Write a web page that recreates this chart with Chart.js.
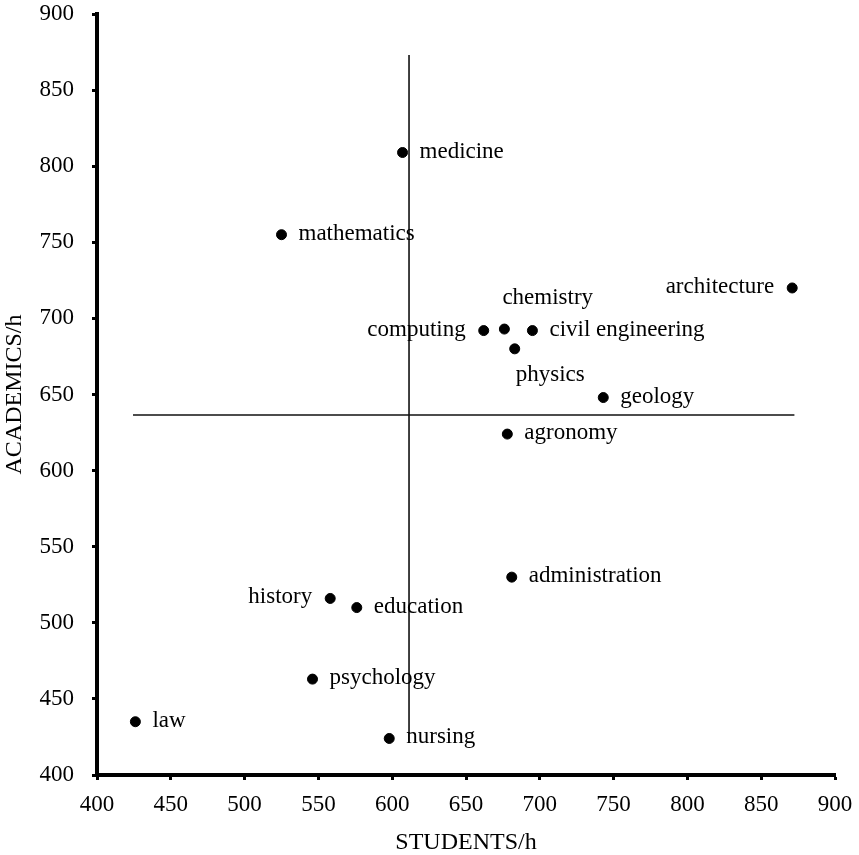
<!DOCTYPE html>
<html><head><meta charset="utf-8">
<script src="https://cdn.jsdelivr.net/npm/chart.js@4/dist/chart.umd.min.js"></script>
<style>html,body{margin:0;padding:0;background:#fff}#wrap{width:859px;height:855px}</style>
</head><body><div id="wrap"><canvas id="c" width="859" height="855"></canvas></div>
<script>
// ---- data ----
const disciplines = ['medicine','mathematics','architecture','computing','chemistry','civil engineering','physics','geology','agronomy','administration','history','education','psychology','law','nursing'];
const studentsPerHour = [607, 525, 871, 662, 676, 695, 683, 743, 678, 681, 558, 576, 546, 426, 598];
const academicsPerHour = [809, 755, 720, 692, 693, 692, 680, 648, 624, 530, 516, 510, 463, 435, 424];
const labelSide = ['right','right','left','left','above','right','below','right','right','right','left','right','right','right','right'];
const meanStudents = 611.4;
const meanAcademics = 636.5;
const vLineRange = [427.6, 873];   // academics extent of the vertical mean line
const hLineRange = [424.4, 872.5]; // students extent of the horizontal mean line
const axisMin = 400, axisMax = 900, axisStep = 50;

const SERIF = "'Liberation Serif', 'Times New Roman', serif";

const labelPlugin = {
  id: 'pointLabels',
  afterDatasetsDraw(chart) {
    const {ctx, scales} = chart;
    const offs = {right:[17,0,'left'], left:[-18,0,'right'], above:[-2,-30,'left'], below:[1,27,'left']};
    ctx.save();
    ctx.font = '23px ' + SERIF;
    ctx.fillStyle = '#000';
    ctx.textBaseline = 'alphabetic';
    disciplines.forEach((name, i) => {
      const px = scales.x.getPixelForValue(studentsPerHour[i]);
      const py = scales.y.getPixelForValue(academicsPerHour[i]);
      const o = offs[labelSide[i]];
      ctx.textAlign = o[2];
      ctx.fillText(name, px + o[0], py + o[1] + 5);
    });
    ctx.restore();
  }
};

const points = studentsPerHour.map((s, i) => ({x: s, y: academicsPerHour[i]}));

new Chart(document.getElementById('c'), {
  type: 'scatter',
  data: {
    datasets: [
      {data: [{x: meanStudents, y: vLineRange[0]}, {x: meanStudents, y: vLineRange[1]}], showLine: true, borderColor: '#111', borderWidth: 1.6, pointRadius: 0},
      {data: [{x: hLineRange[0], y: meanAcademics}, {x: hLineRange[1], y: meanAcademics}], showLine: true, borderColor: '#111', borderWidth: 1.6, pointRadius: 0},
      {data: points, backgroundColor: '#000', borderColor: '#000', pointRadius: 5, pointHoverRadius: 5}
    ]
  },
  options: {
    responsive: false,
    devicePixelRatio: 1,
    animation: false,
    layout: {padding: {top: 14, right: 24, left: 0, bottom: 0}},
    plugins: {legend: {display: false}, tooltip: {enabled: false}},
    scales: {
      x: {
        type: 'linear', min: axisMin, max: axisMax,
        afterFit(s) { s.height = 80; s.paddingLeft = 0; s.paddingRight = 0; },
        ticks: {stepSize: axisStep, color: '#000', padding: 11, font: {family: SERIF, size: 23}},
        grid: {drawOnChartArea: false, drawTicks: true, tickLength: 5, tickWidth: 3, color: '#000'},
        border: {color: '#000', width: 4},
        title: {display: true, text: 'STUDENTS/h', color: '#000', font: {family: SERIF, size: 24, lineHeight: 1}, padding: {top: 0, bottom: 0}}
      },
      y: {
        type: 'linear', min: axisMin, max: axisMax,
        afterFit(s) { s.width = 97; s.paddingTop = 0; s.paddingBottom = 0; },
        ticks: {stepSize: axisStep, color: '#000', padding: 18, font: {family: SERIF, size: 23}},
        grid: {drawOnChartArea: false, drawTicks: true, tickLength: 5, tickWidth: 3, color: '#000'},
        border: {color: '#000', width: 4},
        title: {display: true, text: 'ACADEMICS/h', color: '#000', font: {family: SERIF, size: 24, lineHeight: 1}, padding: {top: 3, bottom: 0}}
      }
    }
  },
  plugins: [labelPlugin]
});
</script></body></html>
